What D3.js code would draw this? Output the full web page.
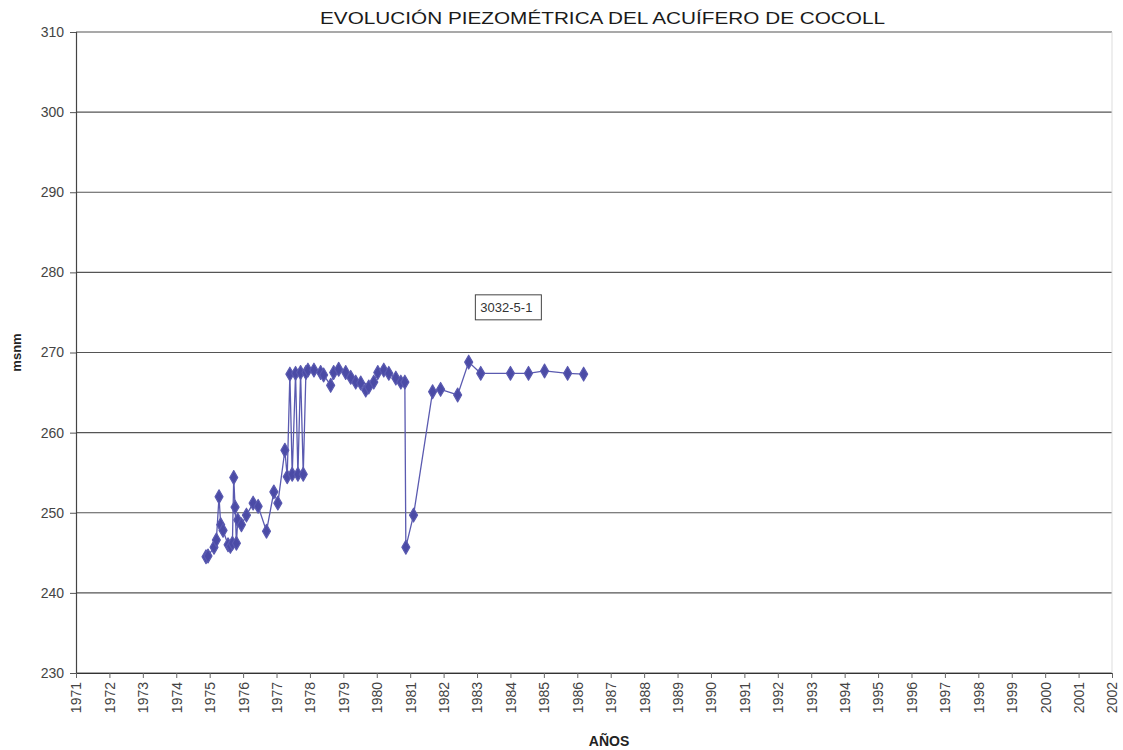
<!DOCTYPE html>
<html>
<head>
<meta charset="utf-8">
<script src="https://cdn.jsdelivr.net/npm/d3@7"></script>
<style>
  body { margin: 0; background: #fff; }
  text { font-family: "Liberation Sans", Arial, sans-serif; }
</style>
</head>
<body>
<div id="graph"></div>
<script>
// fechas (años decimales) y niveles piezométricos del pozo 3032-5-1
const years = [
  1974.89, 1974.95, 1975.13, 1975.20, 1975.28, 1975.33, 1975.40, 1975.55, 1975.62, 1975.68,
  1975.72, 1975.76, 1975.80, 1975.84, 1975.95, 1976.10, 1976.30, 1976.45, 1976.70, 1976.92,
  1977.04, 1977.25, 1977.32, 1977.40, 1977.47, 1977.57, 1977.64, 1977.72, 1977.80, 1977.88,
  1977.94, 1978.12, 1978.32, 1978.41, 1978.62, 1978.71, 1978.86, 1979.07, 1979.22, 1979.37,
  1979.52, 1979.67, 1979.76, 1979.91, 1980.03, 1980.21, 1980.36, 1980.57, 1980.72, 1980.84,
  1980.87, 1981.10, 1981.67, 1981.91, 1982.42, 1982.75, 1983.11, 1984.00, 1984.54, 1985.02,
  1985.71, 1986.19
];
const levels = [
  244.5, 244.6, 245.7, 246.6, 252.0, 248.5, 247.8, 246.0, 245.8, 246.2,
  254.4, 250.7, 246.2, 249.1, 248.5, 249.7, 251.2, 250.8, 247.7, 252.6,
  251.2, 257.8, 254.5, 267.3, 254.8, 267.4, 254.8, 267.5, 254.8, 267.5,
  267.8, 267.8, 267.5, 267.2, 265.9, 267.5, 267.9, 267.5, 266.9, 266.3,
  266.2, 265.3, 265.7, 266.3, 267.5, 267.8, 267.4, 266.8, 266.3, 266.3,
  245.7, 249.7, 265.1, 265.4, 264.7, 268.8, 267.4, 267.4, 267.4, 267.7,
  267.4, 267.3
];
const yearTicks = d3.range(1971, 2003);
const levelTicks = [230, 240, 250, 260, 270, 280, 290, 300, 310];
const seriesName = "3032-5-1";

const width = 1123;
const height = 750;
const margin = { left: 76, right: 11, top: 32, bottom: 77 };

const svg = d3.select("#graph")
  .append("svg")
  .attr("width", width)
  .attr("height", height);

const xScale = d3.scaleLinear()
  .domain([1971, 2002])
  .range([margin.left, width - margin.right]);

const yScale = d3.scaleLinear()
  .domain([230, 310])
  .range([height - margin.bottom, margin.top]);

// rejilla horizontal
svg.append("g")
  .selectAll("line")
  .data(levelTicks)
  .enter()
  .append("line")
  .attr("x1", margin.left)
  .attr("x2", width - margin.right)
  .attr("y1", d => yScale(d))
  .attr("y2", d => yScale(d))
  .attr("stroke", "#555")
  .attr("stroke-width", 1.1);

// borde derecho tenue
svg.append("line")
  .attr("x1", width - margin.right).attr("x2", width - margin.right)
  .attr("y1", margin.top).attr("y2", height - margin.bottom)
  .attr("stroke", "#ddd");

const y_axis = d3.axisLeft(yScale)
  .tickValues(levelTicks)
  .tickSize(6)
  .tickPadding(6);

svg.append("g")
  .attr("transform", "translate(" + margin.left + ",0)")
  .call(y_axis)
  .call(g => g.selectAll("text").style("font-size", "14px").attr("fill", "#444"))
  .call(g => g.selectAll("line").attr("stroke", "#555"))
  .call(g => g.select(".domain").attr("stroke", "#444").attr("stroke-width", 1.2));

const x_axis = d3.axisBottom(xScale)
  .tickValues(yearTicks)
  .tickFormat(d3.format("d"))
  .tickSize(5)
  .tickSizeOuter(0);

svg.append("g")
  .attr("transform", "translate(0," + (height - margin.bottom) + ")")
  .call(x_axis)
  .call(g => g.select(".domain").attr("stroke", "#333").attr("stroke-width", 1.2))
  .call(g => g.selectAll("line").attr("stroke", "#666"))
  .call(g => g.selectAll("text")
    .style("font-size", "14px")
    .attr("fill", "#444")
    .attr("text-anchor", "end")
    .attr("transform", "rotate(-90)")
    .attr("x", -9)
    .attr("y", 0)
    .attr("dy", "0.35em"));

// serie
const line = d3.line()
  .x((d, i) => xScale(years[i]))
  .y(d => yScale(d));

svg.append("path")
  .datum(levels)
  .attr("d", line)
  .attr("fill", "none")
  .attr("stroke", "#5a5ab0")
  .attr("stroke-width", 1.3);

const diamond = d3.symbol().type(d3.symbolDiamond).size(55);

svg.selectAll(".pt")
  .data(levels)
  .enter()
  .append("path")
  .attr("class", "pt")
  .attr("d", diamond)
  .attr("transform", (d, i) => "translate(" + xScale(years[i]) + "," + yScale(d) + ")")
  .attr("fill", "#4b4ba6")
  .attr("stroke", "#5a5ab0")
  .attr("stroke-width", 1.2)
  .attr("stroke-linejoin", "round");

// etiqueta de la serie
const lab = svg.append("g")
  .attr("transform", "translate(" + xScale(1982.95) + "," + yScale(275.7) + ")");
lab.append("rect")
  .attr("x", 0).attr("y", -12)
  .attr("width", 66).attr("height", 25)
  .attr("fill", "#fff")
  .attr("stroke", "#444");
lab.append("text")
  .attr("x", 5).attr("y", 5)
  .style("font-size", "13px")
  .attr("fill", "#333")
  .text(seriesName);

// títulos
svg.append("text")
  .attr("x", 320).attr("y", 24)
  .attr("textLength", 565)
  .attr("lengthAdjust", "spacingAndGlyphs")
  .style("font-size", "17px")
  .attr("fill", "#1a1a1a")
  .text("EVOLUCIÓN PIEZOMÉTRICA DEL ACUÍFERO DE COCOLL");

svg.append("text")
  .attr("transform", "translate(21," + yScale(270) + ") rotate(-90)")
  .attr("text-anchor", "middle")
  .style("font-size", "13px")
  .style("font-weight", "bold")
  .attr("fill", "#222")
  .text("msnm");

svg.append("text")
  .attr("x", 609).attr("y", 746)
  .attr("text-anchor", "middle")
  .style("font-size", "14px")
  .style("font-weight", "bold")
  .attr("fill", "#222")
  .text("AÑOS");
</script>
</body>
</html>
